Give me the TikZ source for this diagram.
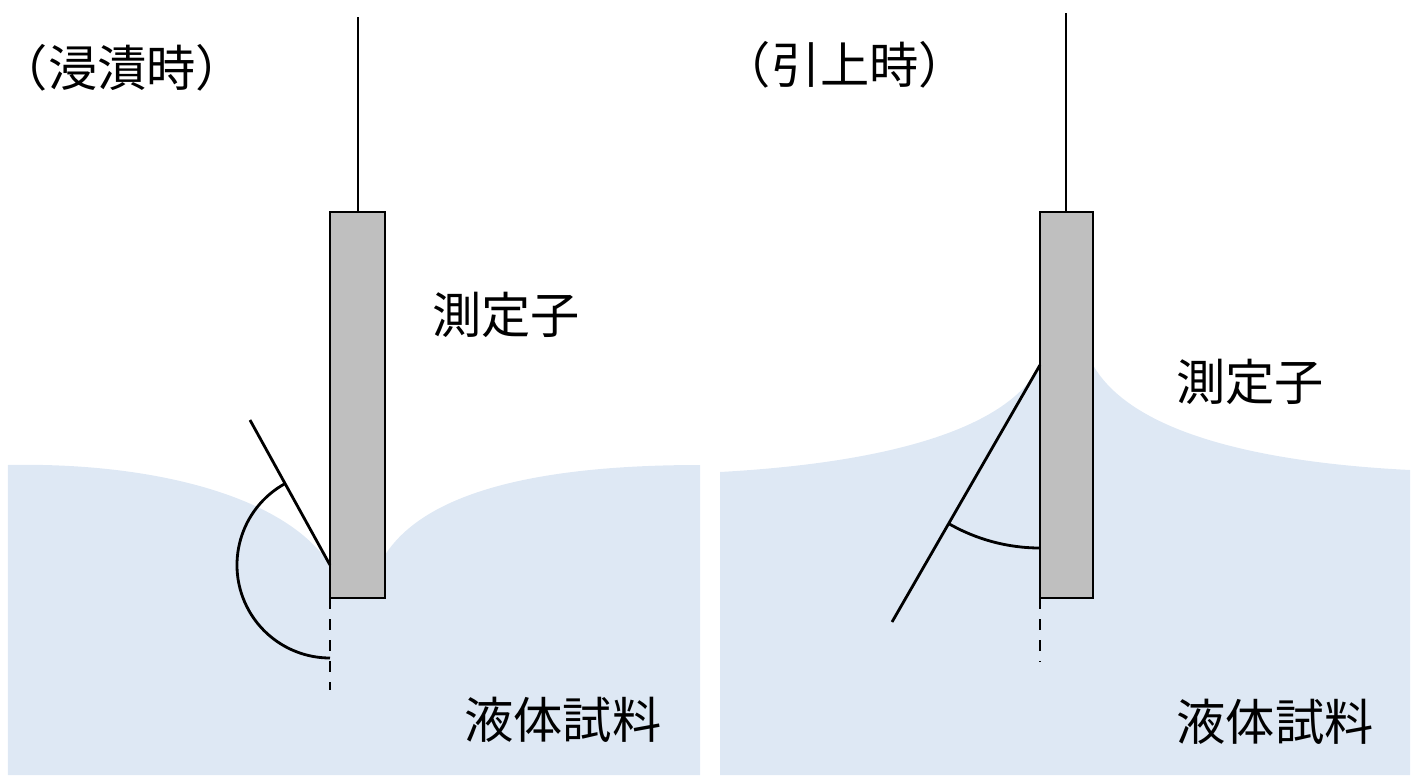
\documentclass[tikz,border=0pt]{standalone}
\usepackage{fontspec}
\newfontfamily\jp{Noto Sans CJK JP}
\usetikzlibrary{positioning}
\definecolor{liquid}{HTML}{DEE8F4}
\definecolor{probegray}{HTML}{BFBFBF}
\begin{document}
\begin{tikzpicture}[x=0.01cm,y=-0.01cm,line width=0.8pt,
    probe/.style={draw=black, fill=probegray},
    lbl/.style={font=\jp\fontsize{14}{16}\selectfont, inner sep=0pt},
  ]
  \useasboundingbox (0,0) rectangle (1414,778);

  % liquid (dipping)
  \fill[liquid] (8,465) .. controls (150,462) and (285,495) .. (330,565) -- (330,598) -- (385,598)
    -- (385,555) .. controls (430,485) and (560,465) .. (700,465) -- (700,775) -- (8,775) -- cycle;
  % liquid (pulling up)
  \fill[liquid] (720,472) .. controls (900,462) and (1010,425) .. (1040,365) -- (1093,365)
    .. controls (1130,430) and (1250,462) .. (1410,470) -- (1410,775) -- (720,775) -- cycle;

  % left probe
  \coordinate (WL) at (358,17);
  \coordinate (CL) at (330,565);
  \coordinate (TL) at (250,420);
  \coordinate (DL) at (330,690);
  \draw[probe] (330,212) rectangle (385,598);
  \draw (WL) -- (358,212);
  \draw (CL) -- (TL);
  \draw (CL) ++(241:93) arc[start angle=241, end angle=90, radius=93];
  \draw[dashed] (330,598) -- (DL);

  % right probe
  \coordinate (WR) at (1066,13);
  \coordinate (CR) at (1040,365);
  \coordinate (TR) at (892,622);
  \coordinate (DR) at (1040,662);
  \draw[probe] (1040,212) rectangle (1093,598);
  \draw (WR) -- (1066,212);
  \draw (CR) -- (TR);
  \draw (CR) ++(120:183) arc[start angle=120, end angle=90, radius=183];
  \draw[dashed] (1040,598) -- (DR);

  \node[lbl] (dip) at (122,68) {（浸漬時）};
  \node[lbl] (pull) at (845,65) {（引上時）};
  \node[lbl] (probeL) at (506,315) {測定子};
  \node[lbl] (probeR) at (1250,382) {測定子};
  \node[lbl] (liqL) at (563,720) {液体試料};
  \node[lbl] (liqR) at (1275,722) {液体試料};
\end{tikzpicture}
\end{document}
